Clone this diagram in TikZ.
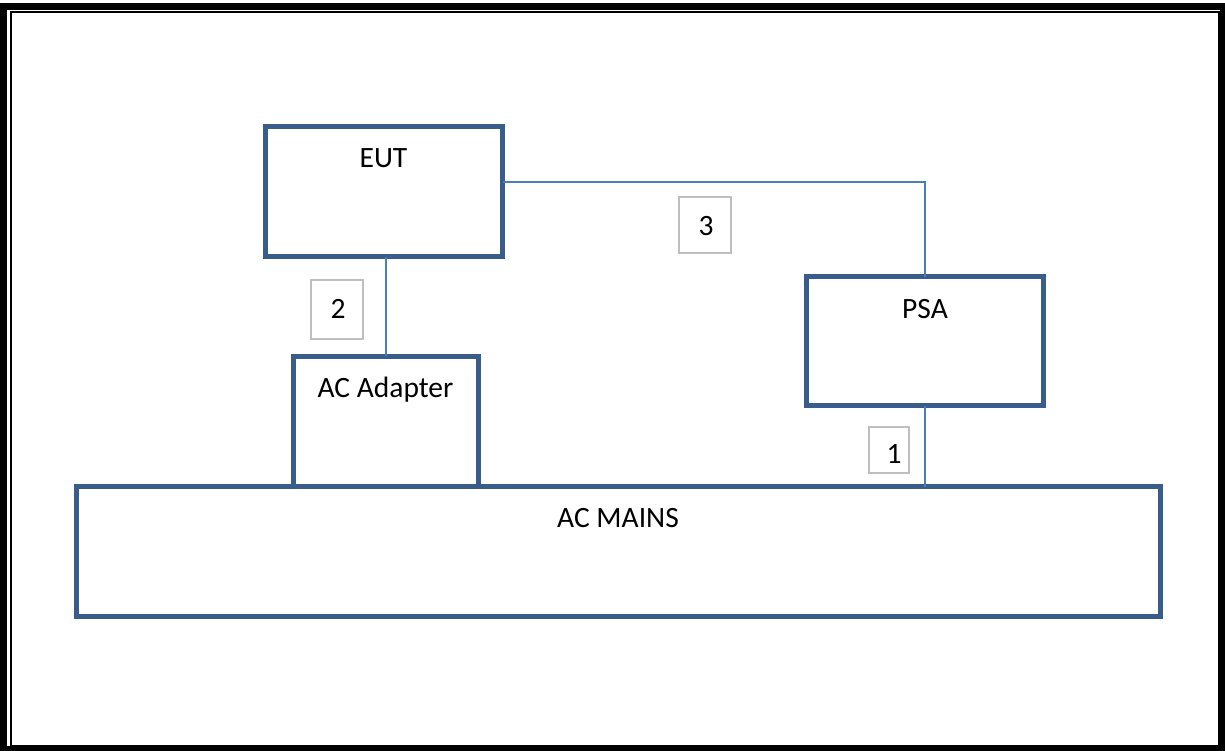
\documentclass[tikz,border=0pt]{standalone}
\usepackage{fontspec}
\setmainfont{Carlito}
\definecolor{boxblue}{HTML}{385D8A}
\definecolor{wireblue}{HTML}{4A7EBB}
\definecolor{taggray}{HTML}{BFBFBF}
\begin{document}
\begin{tikzpicture}[x=1pt,y=-1pt,
  bigbox/.style={draw=boxblue,line width=5pt,fill=white,inner sep=0pt,outer sep=0pt},
  wire/.style={draw=wireblue,line width=1.5pt},
  tag/.style={draw=taggray,line width=2pt,inner sep=0pt,outer sep=0pt},
  lbl/.style={anchor=base,font=\fontsize{29.5}{31}\selectfont,inner sep=0pt}]
\useasboundingbox (0,0) rectangle (1225,750);
\draw[line width=7pt] (3.5,6) rectangle (1223.5,749);
\draw[line width=2pt] (10.5,11.5) rectangle (1219,746);
% boxes
\node[bigbox,minimum width=237.5pt,minimum height=130pt] (eut) at (383.75,191.5) {};
\node[bigbox,minimum width=236.5pt,minimum height=129pt] (psa) at (924.75,341) {};
\node[bigbox,minimum width=185pt,minimum height=130.5pt] (ad) at (386,421.25) {};
\node[bigbox,minimum width=1084pt,minimum height=130pt] (mains) at (618.5,551.5) {};
% labels
\node[lbl] (teut) at (383.5,167) {EUT};
\node[lbl] (tpsa) at (925,318) {PSA};
\node[lbl] (tad) at (385.5,397) {AC Adapter};
\node[lbl] (tmains) at (618,527) {AC MAINS};
% wires
\coordinate (c3) at (925,182);
\draw[wire] (eut.east |- c3) -- (c3) -- (c3 |- psa.north);
\draw[wire] (ad.north) -- (ad.north |- eut.south);
\draw[wire] (psa.south) -- (psa.south |- mains.north);
% tags
\node[tag,minimum width=52pt,minimum height=56pt] (t3) at (705,224.5) {};
\node[lbl] (n3) at (706,235) {3};
\node[tag,minimum width=52pt,minimum height=59pt] (t2) at (336.5,309) {};
\node[lbl] (n2) at (338,318) {2};
\node[tag,minimum width=40pt,minimum height=46pt] (t1) at (888.5,449.5) {};
\node[lbl] (n1) at (894,463) {1};
\end{tikzpicture}
\end{document}
